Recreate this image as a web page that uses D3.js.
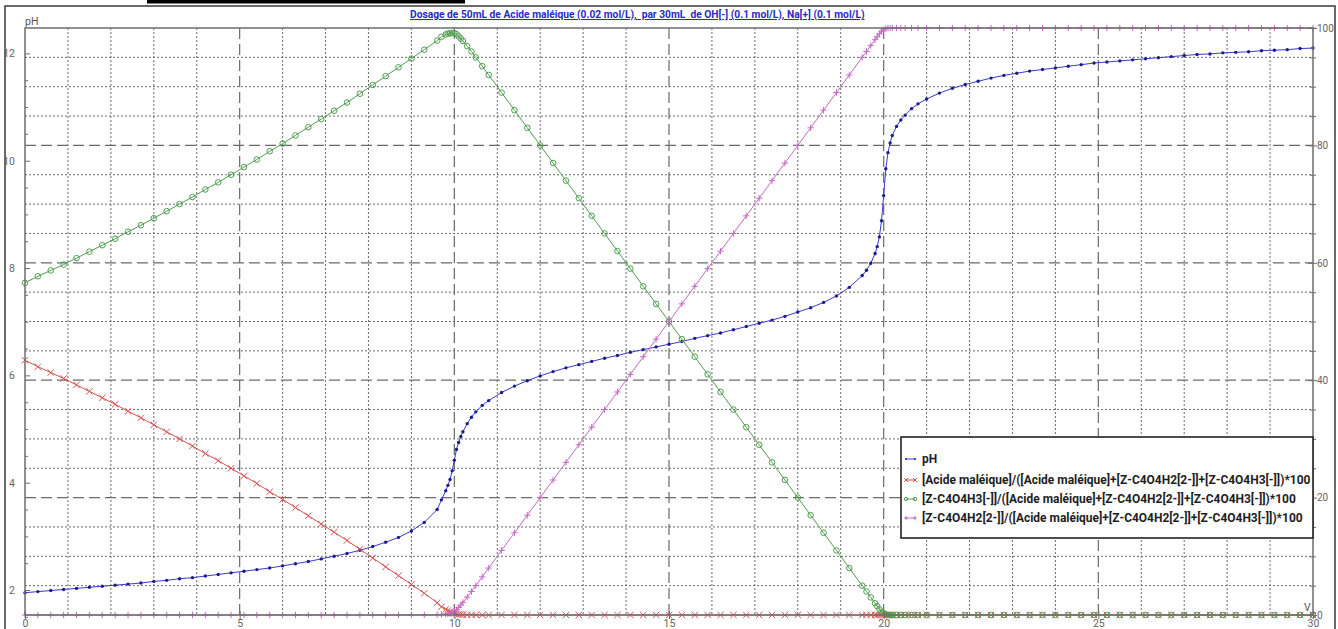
<!DOCTYPE html>
<html>
<head>
<meta charset="utf-8">
<script src="https://cdn.jsdelivr.net/npm/d3@7"></script>
<style>
    body { margin: 0; background: #fff; }
    svg { display: block; font-family: Roboto, "Open Sans", sans-serif; }
</style>
</head>
<body>
<div id="chart"></div>
<script>
//Volumes de soude versés (mL)
const volumes = [
    0, 0.3, 0.6, 0.9, 1.2, 1.5, 1.8, 2.1, 2.4, 2.7,
    3.0, 3.3, 3.6, 3.9, 4.2, 4.5, 4.8, 5.1, 5.4, 5.7,
    6.0, 6.3, 6.6, 6.9, 7.2, 7.5, 7.8, 8.1, 8.4, 8.7,
    9.0, 9.3, 9.6,
    9.7, 9.8, 9.85, 9.9, 9.95, 10.0, 10.05, 10.1, 10.15, 10.2, 10.3, 10.4, 10.5, 10.65,
    10.8, 11.1, 11.4, 11.7, 12.0, 12.3, 12.6, 12.9, 13.2, 13.5,
    13.8, 14.1, 14.4, 14.7, 15.0, 15.3, 15.6, 15.9, 16.2, 16.5,
    16.8, 17.1, 17.4, 17.7, 18.0, 18.3, 18.6, 18.9, 19.2, 19.5,
    19.6, 19.7, 19.8, 19.85, 19.9, 19.95, 20.0, 20.05, 20.1, 20.15, 20.2, 20.3, 20.4, 20.5, 20.65,
    20.8, 21.0, 21.3, 21.6, 21.9, 22.2, 22.5, 22.8, 23.1, 23.4,
    23.7, 24.0, 24.3, 24.6, 24.9, 25.2, 25.5, 25.8, 26.1, 26.4,
    26.7, 27.0, 27.3, 27.6, 27.9, 28.2, 28.5, 28.8, 29.1, 29.4,
    29.7, 30.0
];

//pH
const phValues = [
    1.95, 1.97, 1.99, 2.01, 2.03, 2.05, 2.07, 2.09, 2.11, 2.13,
    2.16, 2.18, 2.21, 2.23, 2.26, 2.29, 2.32, 2.35, 2.38, 2.41,
    2.45, 2.49, 2.53, 2.58, 2.63, 2.68, 2.74, 2.81, 2.89, 2.98,
    3.10, 3.26, 3.50,
    3.68, 3.85, 3.95, 4.06, 4.22, 4.42, 4.62, 4.75, 4.86, 4.95, 5.10, 5.22, 5.32, 5.44,
    5.53, 5.68, 5.80, 5.90, 5.99, 6.07, 6.14, 6.20, 6.26, 6.32,
    6.37, 6.43, 6.48, 6.53, 6.58, 6.63, 6.69, 6.74, 6.79, 6.85,
    6.91, 6.97, 7.03, 7.10, 7.18, 7.26, 7.36, 7.48, 7.64, 7.86,
    7.96, 8.09, 8.27, 8.40, 8.58, 8.88, 9.35, 9.85, 10.15, 10.33, 10.47, 10.64, 10.76, 10.85, 10.97,
    11.06, 11.15, 11.26, 11.35, 11.42, 11.48, 11.54, 11.59, 11.63, 11.67,
    11.70, 11.73, 11.76, 11.79, 11.82, 11.84, 11.86, 11.88, 11.90, 11.92,
    11.94, 11.96, 11.98, 11.99, 12.01, 12.02, 12.03, 12.05, 12.06, 12.07,
    12.09, 12.10
];

//[Acide maléique] en %
const acideValues = [
    43.4, 42.3, 41.3, 40.3, 39.2, 38.1, 37.0, 35.9, 34.7, 33.6,
    32.4, 31.2, 30.0, 28.8, 27.5, 26.3, 25.0, 23.7, 22.4, 21.0,
    19.7, 18.3, 16.9, 15.5, 14.1, 12.7, 11.2, 9.7, 8.2, 6.7,
    5.2, 3.7, 2.1,
    1.4, 0.95, 0.75, 0.58, 0.4, 0.26, 0.16, 0.12, 0.09, 0.07, 0.04, 0.03, 0.02, 0.01,
    0, 0, 0, 0, 0, 0, 0, 0, 0, 0,
    0, 0, 0, 0, 0, 0, 0, 0, 0, 0,
    0, 0, 0, 0, 0, 0, 0, 0, 0, 0,
    0, 0, 0, 0, 0, 0, 0, 0, 0, 0, 0, 0, 0, 0, 0,
    0, 0, 0, 0, 0, 0, 0, 0, 0, 0,
    0, 0, 0, 0, 0, 0, 0, 0, 0, 0,
    0, 0, 0, 0, 0, 0, 0, 0, 0, 0,
    0, 0
];

//[Z-C4O4H3[-]] en %
const monoValues = [
    56.6, 57.7, 58.7, 59.7, 60.8, 61.9, 63.0, 64.1, 65.3, 66.4,
    67.6, 68.8, 70.0, 71.2, 72.5, 73.7, 75.0, 76.3, 77.6, 79.0,
    80.3, 81.7, 83.1, 84.5, 85.9, 87.3, 88.8, 90.3, 91.8, 93.3,
    94.8, 96.3, 97.85,
    98.5, 98.9, 99.05, 99.1, 99.15, 99.1, 98.95, 98.6, 98.2, 97.8, 96.9, 96.0, 95.0, 93.5,
    92, 89, 86, 83, 80, 77, 74, 71, 68, 65,
    62, 59, 56, 53, 50, 47, 44, 41, 38, 35,
    32, 29, 26, 23, 20, 17, 14, 11, 8, 5,
    4, 3, 2, 1.5, 1, 0.55, 0.3, 0.1, 0.03, 0, 0, 0, 0, 0, 0,
    0, 0, 0, 0, 0, 0, 0, 0, 0, 0,
    0, 0, 0, 0, 0, 0, 0, 0, 0, 0,
    0, 0, 0, 0, 0, 0, 0, 0, 0, 0,
    0, 0
];

//[Z-C4O4H2[2-]] en %
const dianionValues = [
    0, 0, 0, 0, 0, 0, 0, 0, 0, 0,
    0, 0, 0, 0, 0, 0, 0, 0, 0, 0,
    0, 0, 0, 0, 0, 0, 0, 0, 0, 0,
    0, 0.02, 0.05,
    0.1, 0.15, 0.2, 0.3, 0.45, 0.65, 0.9, 1.3, 1.7, 2.15, 3.05, 4.0, 5.0, 6.5,
    8, 11, 14, 17, 20, 23, 26, 29, 32, 35,
    38, 41, 44, 47, 50, 53, 56, 59, 62, 65,
    68, 71, 74, 77, 80, 83, 86, 89, 92, 95,
    96, 97, 98, 98.5, 99, 99.45, 99.7, 99.9, 99.97, 100, 100, 100, 100, 100, 100,
    100, 100, 100, 100, 100, 100, 100, 100, 100, 100,
    100, 100, 100, 100, 100, 100, 100, 100, 100, 100,
    100, 100, 100, 100, 100, 100, 100, 100, 100, 100,
    100, 100
];

//Graduations
const xTicks = [0, 5, 10, 15, 20, 25, 30];
const phTicks = [2, 4, 6, 8, 10, 12];
const pctTicks = [0, 20, 40, 60, 80, 100];

const titleText = 'Dosage de 50mL de Acide maléique (0.02 mol/L),  par 30mL  de OH[-] (0.1 mol/L), Na[+] (0.1 mol/L)';
const legendLabels = [
    'pH',
    '[Acide maléique]/([Acide maléique]+[Z-C4O4H2[2-]]+[Z-C4O4H3[-]])*100',
    '[Z-C4O4H3[-]]/([Acide maléique]+[Z-C4O4H2[2-]]+[Z-C4O4H3[-]])*100',
    '[Z-C4O4H2[2-]]/([Acide maléique]+[Z-C4O4H2[2-]]+[Z-C4O4H3[-]])*100'
];

//Couleurs
const COLOR_PH = '#3a3ad0', COLOR_PH_DOT = '#1c1c90',
    COLOR_ACIDE = '#d65050', COLOR_MONO = '#4e9e4e', COLOR_DI = '#c46ac4',
    COLOR_AXIS = '#6e6e6e', COLOR_GRID = '#6a6a6a';

const W = 1338, H = 629;
let svg = d3.select('#chart').append('svg')
    .attr('width', W)
    .attr('height', H);

let x = d3.scaleLinear().domain([0, 30]).range([25, 1313]);
let yPh = d3.scaleLinear().domain([2, 12]).range([590, 53.4]);
let yPct = d3.scaleLinear().domain([0, 100]).range([615, 28]);

//Cadre de la fenêtre
svg.append('rect').attr('x', 147).attr('y', 0).attr('width', 318).attr('height', 3.5).attr('fill', '#000');
svg.append('path')
    .attr('d', 'M5,' + H + 'V6H1335V' + H)
    .attr('fill', 'none').attr('stroke', '#3a3a3a').attr('stroke-width', 1.5);

//Grille
let grid = svg.append('g');
d3.range(1, 30).forEach(function(v) {
    let major = v % 5 == 0;
    grid.append('line')
        .attr('x1', x(v)).attr('x2', x(v))
        .attr('y1', 28).attr('y2', major ? 620 : 615)
        .attr('stroke', COLOR_GRID)
        .attr('stroke-width', major ? 1.2 : 1)
        .attr('stroke-dasharray', major ? '11,5' : '2,2');
});
d3.range(5, 100, 5).forEach(function(p) {
    let major = p % 20 == 0;
    grid.append('line')
        .attr('x1', 25).attr('x2', 1313)
        .attr('y1', yPct(p)).attr('y2', yPct(p))
        .attr('stroke', COLOR_GRID)
        .attr('stroke-width', major ? 1.2 : 1)
        .attr('stroke-dasharray', major ? '11,5' : '2,2');
});

//Données
let data = volumes.map(function(v, i) {
    return { v: v, ph: phValues[i], acide: acideValues[i], mono: monoValues[i], di: dianionValues[i] };
});

function drawSeries(key, scale, color, marker) {
    let g = svg.append('g');
    g.append('path')
        .datum(data)
        .attr('fill', 'none')
        .attr('stroke', color)
        .attr('stroke-width', 1)
        .attr('d', d3.line().x(function(d) { return x(d.v); }).y(function(d) { return scale(d[key]); }));
    data.forEach(function(d) {
        marker(g, x(d.v), scale(d[key]), 1);
    });
}

function dotMarker(g, cx, cy, s) {
    g.append('circle').attr('cx', cx).attr('cy', cy).attr('r', 1.7 * s).attr('fill', COLOR_PH_DOT);
}
function crossMarker(g, cx, cy, s) {
    let r = 3.2 * s;
    g.append('path')
        .attr('d', 'M' + (cx - r) + ',' + (cy - r) + 'L' + (cx + r) + ',' + (cy + r) + 'M' + (cx - r) + ',' + (cy + r) + 'L' + (cx + r) + ',' + (cy - r))
        .attr('stroke', COLOR_ACIDE).attr('stroke-width', 1).attr('fill', 'none');
}
function circleMarker(g, cx, cy, s) {
    g.append('circle').attr('cx', cx).attr('cy', cy).attr('r', 2.8 * s)
        .attr('fill', 'none').attr('stroke', COLOR_MONO).attr('stroke-width', 1);
}
function plusMarker(g, cx, cy, s) {
    let r = 3.2 * s;
    g.append('path')
        .attr('d', 'M' + (cx - r) + ',' + cy + 'H' + (cx + r) + 'M' + cx + ',' + (cy - r) + 'V' + (cy + r))
        .attr('stroke', COLOR_DI).attr('stroke-width', 1).attr('fill', 'none');
}

drawSeries('ph', yPh, COLOR_PH, dotMarker);
drawSeries('acide', yPct, COLOR_ACIDE, crossMarker);
drawSeries('mono', yPct, COLOR_MONO, circleMarker);
drawSeries('di', yPct, COLOR_DI, plusMarker);

//Axes
function styleAxis(g, fs) {
    g.select('.domain').remove();
    g.selectAll('.tick line').attr('stroke', COLOR_AXIS);
    g.selectAll('.tick text').attr('fill', '#666').attr('font-size', fs || 10.5).attr('font-family', 'Roboto, sans-serif');
}

let frame = svg.append('g');
frame.append('rect')
    .attr('x', 25).attr('y', 28).attr('width', 1288).attr('height', 587)
    .attr('fill', 'none').attr('stroke', COLOR_AXIS).attr('stroke-width', 1.5);

//Axe pH (gauche)
let axisPh = svg.append('g').attr('transform', 'translate(25,0)')
    .call(d3.axisLeft(yPh).tickValues(phTicks).tickSize(6).tickPadding(4).tickFormat(d3.format('d')));
styleAxis(axisPh);
axisPh.selectAll('.tick line').attr('x2', 5);
let axisPhMinor = svg.append('g').attr('transform', 'translate(25,0)')
    .call(d3.axisLeft(yPh).tickValues(d3.range(1.5, 12.5, 0.5).filter(function(d) { return d % 2 != 0; })).tickSize(3).tickFormat(''));
styleAxis(axisPhMinor);
axisPhMinor.selectAll('.tick line').attr('x2', 3);

//Axe % (droite)
let axisPct = svg.append('g').attr('transform', 'translate(1313,0)')
    .call(d3.axisRight(yPct).tickValues(pctTicks).tickSize(3).tickPadding(1));
styleAxis(axisPct, 10);
axisPct.selectAll('.tick line').attr('x1', -5).attr('x2', 4);
let axisPctMinor = svg.append('g').attr('transform', 'translate(1313,0)')
    .call(d3.axisRight(yPct).tickValues(d3.range(5, 100, 5).filter(function(d) { return d % 20 != 0; })).tickSize(3).tickFormat(''));
styleAxis(axisPctMinor);
axisPctMinor.selectAll('.tick line').attr('x1', -3);

//Axe V (bas)
let axisV = svg.append('g').attr('transform', 'translate(0,615)')
    .call(d3.axisBottom(x).tickValues(xTicks).tickSize(4).tickPadding(0));
styleAxis(axisV);
axisV.selectAll('.tick text').attr('dy', '0.75em');
axisV.selectAll('.tick line').attr('y1', -4);

svg.append('text').attr('x', 25).attr('y', 25).attr('font-size', 10.5).attr('fill', '#555').text('pH');
svg.append('text').attr('x', 1304).attr('y', 611).attr('font-size', 10.5).attr('fill', '#555').text('V');

//Titre
let title = svg.append('text')
    .attr('x', 410).attr('y', 18)
    .attr('font-size', 11).attr('font-weight', 700)
    .attr('fill', '#2a2ac8')
    .style('white-space', 'pre')
    .style('text-decoration', 'underline')
    .text(titleText);
fitWidth(title, 455);

//Légende
var legendFont = 11;
let legend = svg.append('g');
legend.append('rect')
    .attr('x', 901).attr('y', 437).attr('width', 412).attr('height', 101)
    .attr('fill', '#fff').attr('stroke', '#222').attr('stroke-width', 1.6);
let legendRows = [459, 480, 499, 518];
let legendColors = [COLOR_PH, COLOR_ACIDE, COLOR_MONO, COLOR_DI];
let legendMarkers = [dotMarker, crossMarker, circleMarker, plusMarker];
legendLabels.forEach(function(label, i) {
    let ly = legendRows[i];
    legend.append('line').attr('x1', 906).attr('x2', 915).attr('y1', ly).attr('y2', ly)
        .attr('stroke', legendColors[i]).attr('stroke-width', 1);
    legendMarkers[i](legend, 906, ly, 0.6);
    legendMarkers[i](legend, 915, ly, 0.6);
    let t = legend.append('text')
        .attr('x', 922).attr('y', ly).attr('dy', '0.35em')
        .attr('font-size', 11).attr('font-weight', 700).attr('fill', '#1e1e1e')
        .text(label);
    if (i == 1) { fitWidth(t, 389); legendFont = +t.attr('font-size'); }
});
legend.selectAll('text').attr('font-size', legendFont);

function fitWidth(sel, target) {
    let w = sel.node().getComputedTextLength();
    let fs = parseFloat(sel.attr('font-size'));
    sel.attr('font-size', fs * target / w);
}
</script>
</body>
</html>
